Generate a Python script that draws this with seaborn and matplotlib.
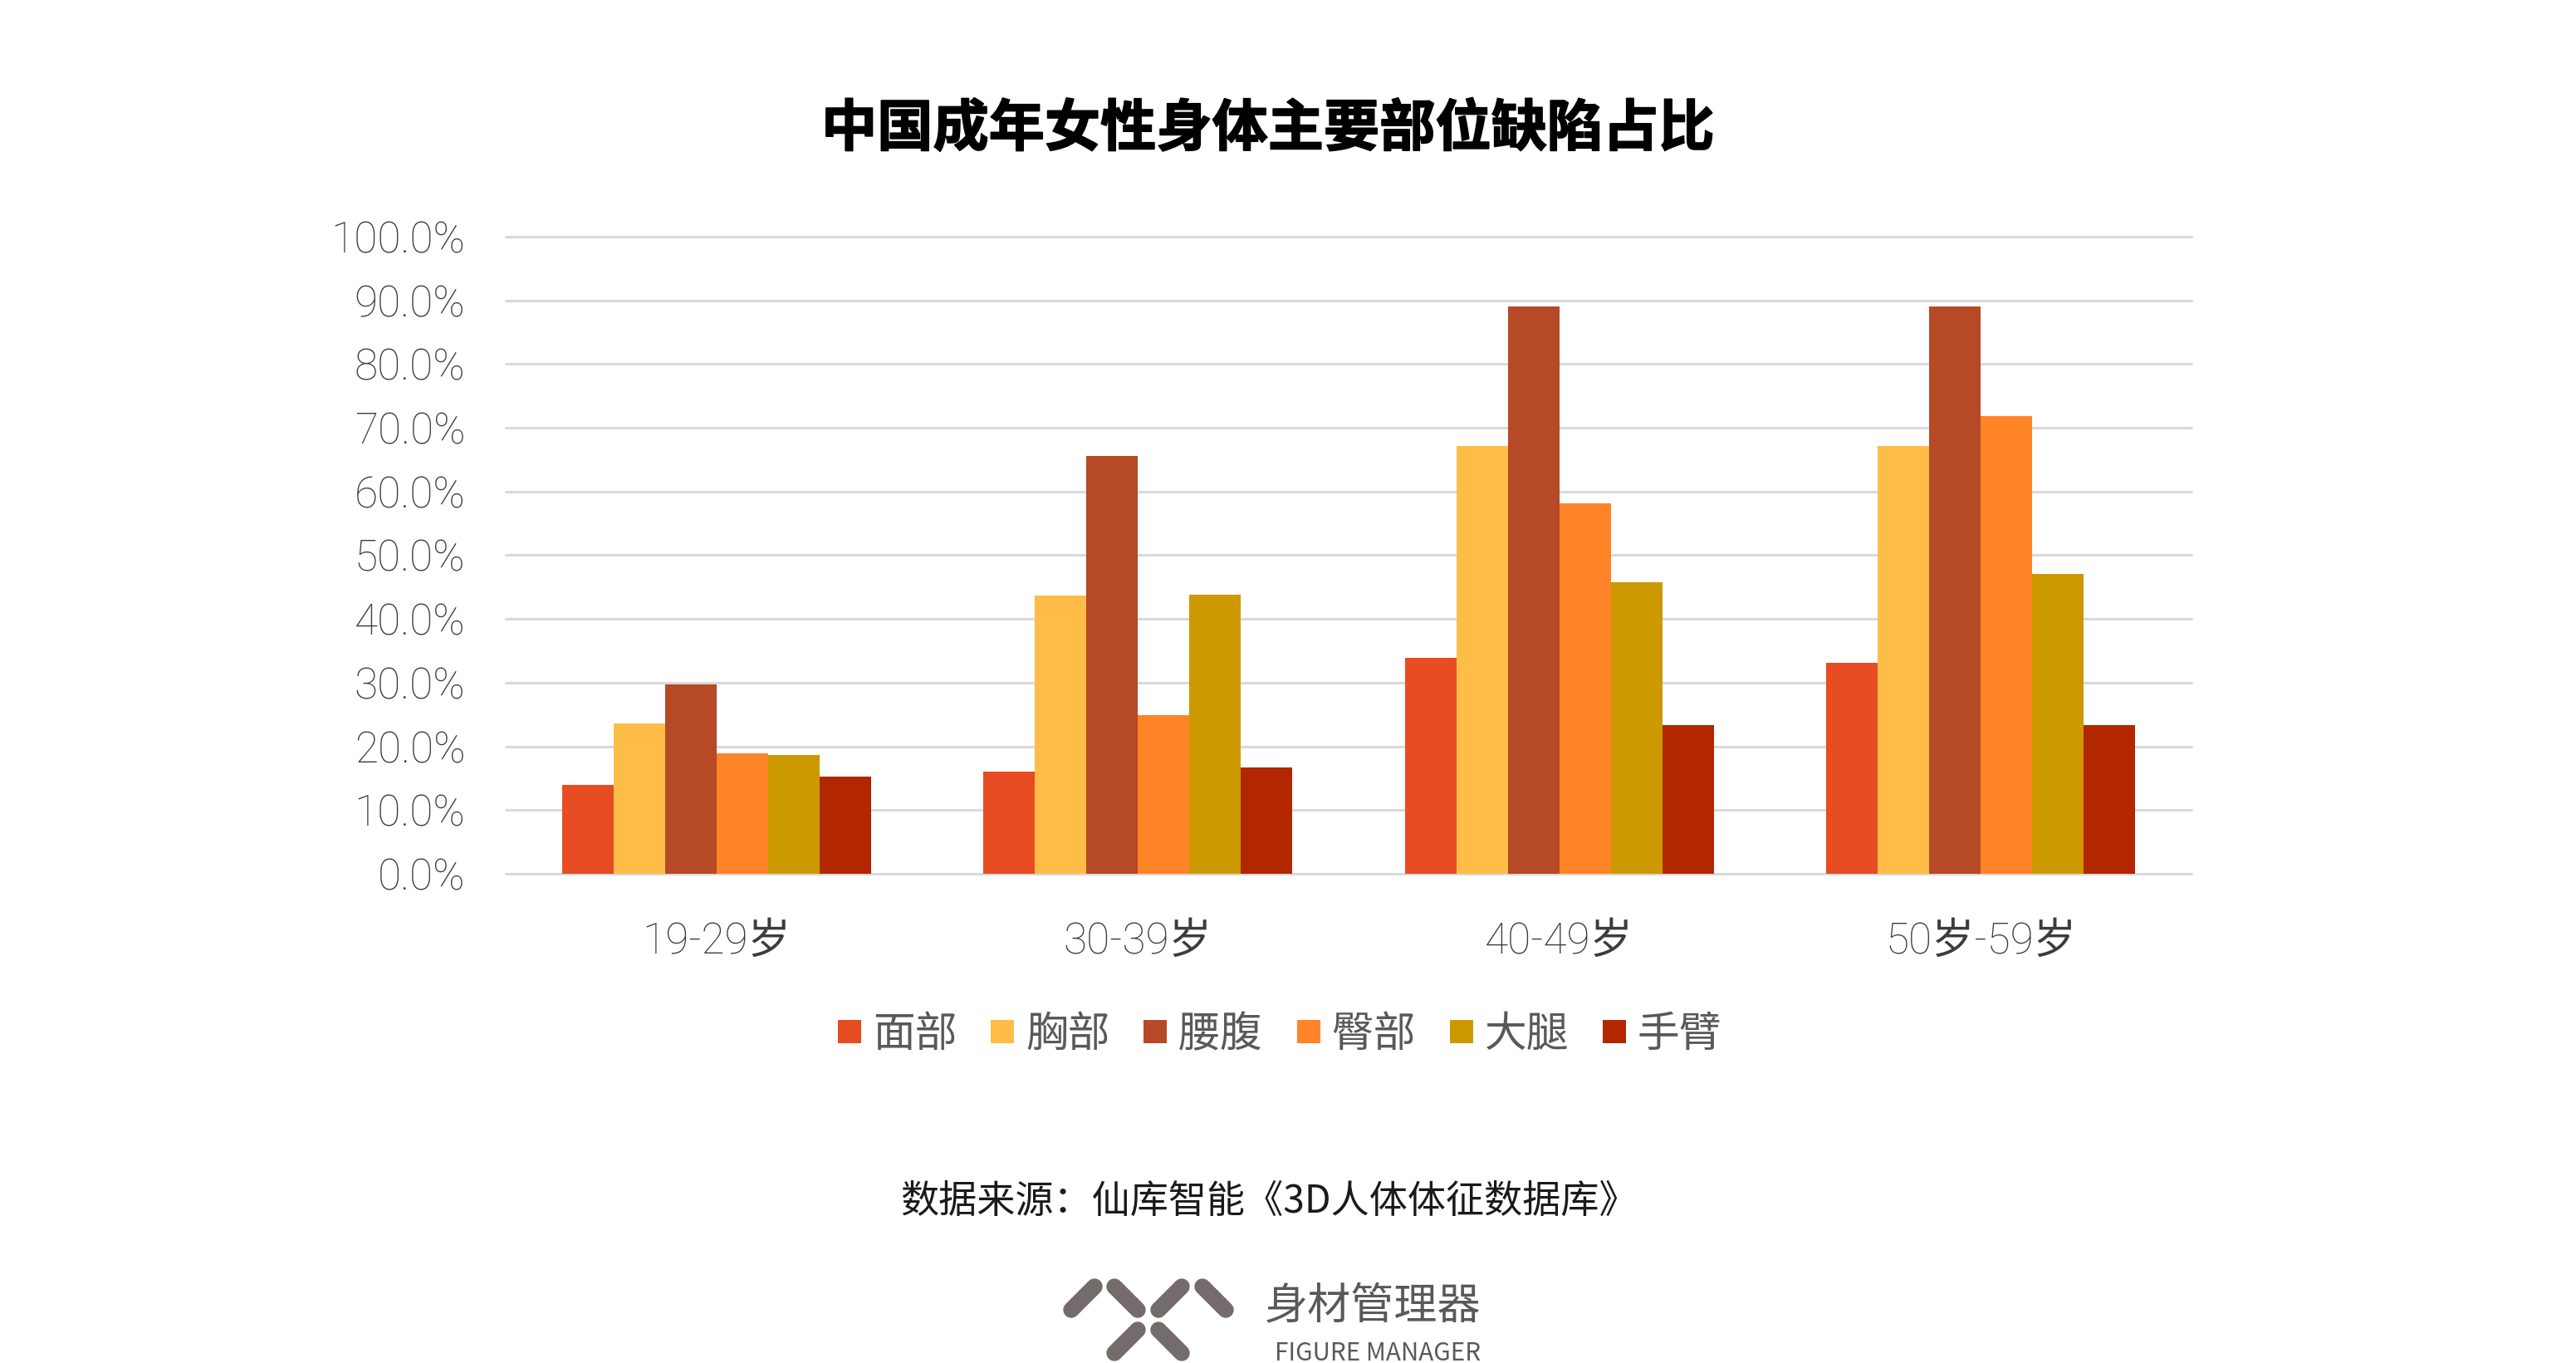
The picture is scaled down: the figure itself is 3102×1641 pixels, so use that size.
import matplotlib
matplotlib.use("Agg")
import matplotlib.patheffects as pe
import matplotlib.pyplot as plt
import pandas as pd
import seaborn as sns
from matplotlib.lines import Line2D

# ── Data ───────────────────────────────────────────────────────────────────────
AGE_GROUPS = ["19-29岁", "30-39岁", "40-49岁", "50岁-59岁"]
PARTS = ["面部", "胸部", "腰腹", "臀部", "大腿", "手臂"]
FACE = [14.0, 16.0, 33.9, 33.1]
CHEST = [23.6, 43.7, 67.1, 67.1]
WAIST = [29.7, 65.6, 89.1, 89.1]
HIP = [18.9, 24.9, 58.1, 71.8]
THIGH = [18.7, 43.8, 45.8, 47.1]
ARM = [15.3, 16.7, 23.4, 23.4]
Y_TICKS = [0, 10, 20, 30, 40, 50, 60, 70, 80, 90, 100]
COLORS = ["#E84C22", "#FFBD47", "#B64926", "#FF8427", "#CC9900", "#B22600"]

TITLE = "中国成年女性身体主要部位缺陷占比"
SOURCE = "数据来源：仙库智能《3D人体体征数据库》"

W, H = 3102, 1641
FONT = ["Noto Sans CJK SC", "DejaVu Sans"]
LATIN_FONT = ["Roboto", "Noto Sans CJK SC", "DejaVu Sans"]
GREY = "#595959"
TICK_GREY = "#3C3C3C"

sns.set_theme(style="white")
plt.rcParams["font.family"] = FONT

df = pd.DataFrame({"age": AGE_GROUPS, "面部": FACE, "胸部": CHEST, "腰腹": WAIST,
                   "臀部": HIP, "大腿": THIGH, "手臂": ARM})
long_df = df.melt(id_vars="age", var_name="part", value_name="pct")


def px(x, y):
    # reference pixels -> figure fraction
    return x / W, 1 - y / H


fig = plt.figure(figsize=(W / 100, H / 100), dpi=100, facecolor="white")
ax = fig.add_axes([609 / W, 1 - 1052 / H, (2639 - 609) / W, (1052 - 285) / H])

sns.barplot(data=long_df, x="age", y="pct", hue="part", hue_order=PARTS,
            order=AGE_GROUPS, palette=COLORS, width=0.733, gap=0, saturation=1,
            linewidth=0, legend=False, ax=ax, zorder=3)

ax.set_xlim(-0.5, 3.5)
ax.set_ylim(0, 100)
ax.set_yticks(Y_TICKS)
ax.set_yticklabels([f"{v:.1f}%" for v in Y_TICKS], fontsize=37, color=TICK_GREY,
                   fontweight="light", family=LATIN_FONT)
ax.set_xticks(range(4))
ax.set_xticklabels(AGE_GROUPS, fontsize=37, color=TICK_GREY, fontweight="light",
                   family=LATIN_FONT)
ax.set_xlabel("")
ax.set_ylabel("")
ax.tick_params(axis="y", length=0, pad=35)
ax.tick_params(axis="x", length=0, pad=41)
ax.grid(True, axis="y", color="#D9D9D9", linewidth=2.2, zorder=0, clip_on=False)
ax.set_axisbelow(True)
for spine in ax.spines.values():
    spine.set_visible(False)

# Title and source
fig.text(*px(1527, 156), TITLE, ha="center", va="center", fontsize=48.4,
         fontweight="bold", color="black",
         path_effects=[pe.withStroke(linewidth=1.2, foreground="black")])
fig.text(*px(1528, 1446), SOURCE, ha="center", va="center", fontsize=33.2,
         color="#1A1A1A")

# Legend
legend_handles = [Line2D([], [], linestyle="none", marker="s", markersize=20,
                         markerfacecolor=c, markeredgewidth=0) for c in COLORS]
leg = fig.legend(legend_handles, PARTS, loc="center", bbox_to_anchor=px(1538, 1246),
                 ncol=6, frameon=False, fontsize=36.5, handletextpad=0.15,
                 columnspacing=0.68, handlelength=0.8, labelcolor=GREY,
                 borderpad=0, borderaxespad=0)
for txt in leg.get_texts():
    txt.set_fontweight("light")

# Logo
LOGO_COLOR = "#736C6A"
LOGO_BARS = [
    ((1290, 1577), (1318, 1549)), ((1342, 1549), (1370, 1577)),
    ((1395, 1577), (1423, 1549)), ((1448, 1549), (1476, 1577)),
    ((1342, 1629), (1370, 1601)), ((1395, 1601), (1423, 1629)),
]
for start, end in LOGO_BARS:
    x0, y0 = px(*start)
    x1, y1 = px(*end)
    fig.add_artist(Line2D([x0, x1], [y0, y1], transform=fig.transFigure,
                          color=LOGO_COLOR, linewidth=14, solid_capstyle="round"))
fig.text(*px(1653, 1574), "身材管理器", ha="center", va="center", fontsize=37.5,
         color=GREY)
fig.text(*px(1659, 1630), "FIGURE MANAGER", ha="center", va="center", fontsize=21.3,
         color=GREY)

fig.savefig("out.png", dpi=100, facecolor="white")
